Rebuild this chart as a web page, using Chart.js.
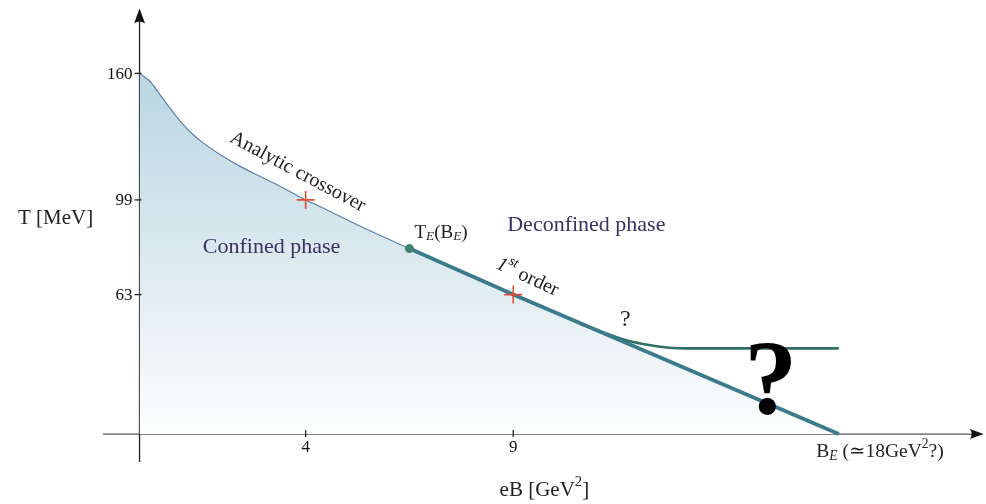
<!DOCTYPE html>
<html>
<head>
<meta charset="utf-8">
<script src="https://cdn.jsdelivr.net/npm/chart.js@4"></script>
<style>
  html, body { margin: 0; padding: 0; background: #fff; }
  #wrap { width: 986px; height: 504px; }
</style>
</head>
<body>
<div id="wrap"><canvas id="phase"></canvas></div>
<script>
// Values (eB in GeV^2, T in MeV)
const X_TICKS = [4, 9];
const Y_TICKS = [63, 99, 160];

// Analytic crossover, from eB = 0 to the endpoint
const CROSS_EB = [0, 0.25, 0.49, 0.73, 0.97, 1.21, 1.53, 1.93, 2.41, 2.97, 3.45, 4.0, 4.34, 5.42, 6.5];
const CROSS_T  = [160, 156.2, 149.8, 143.3, 137.2, 132.0, 126.5, 121.0, 115.3, 109.7, 104.9, 99, 96.5, 88.2, 80.5];

// First order line, from the endpoint down to B_E
const FIRST_EB = [6.5, 9, 16.84];
const FIRST_T  = [80.5, 63, 0];

// Speculative branch that levels off
const BRANCH_EB = [10.59, 11.31, 11.79, 12.27, 12.75, 13.3, 16.84];
const BRANCH_T  = [49.9, 45.0, 42.0, 40.2, 39.0, 38.7, 38.7];

const MARK_EB = [4, 9];
const MARK_T  = [99, 63];

const ENDPOINT = { x: 6.5, y: 80.5 };

// axis extents (the arrows run a little past the plotted range)
const X_RANGE = [-0.88, 20.13];
const X_ARROW_END = 20.33;
const Y_RANGE = [-12.5, 191];
const Y_ARROW_END = 192;

// The T axis of the sketch is not drawn to scale: ticks sit at uneven spacing
const Y_BREAKS = [-12.5, 0, 63, 99, 160, 191];
const Y_BREAK_POS = [0, 0.0618, 0.3709, 0.5806, 0.8609, 1];

function toDecimal(v) {
  const b = Y_BREAKS, p = Y_BREAK_POS;
  let i = 0;
  if (v >= b[b.length - 1]) i = b.length - 2;
  else while (i < b.length - 2 && v > b[i + 1]) i++;
  return p[i] + (v - b[i]) / (b[i + 1] - b[i]) * (p[i + 1] - p[i]);
}
function fromDecimal(d) {
  const b = Y_BREAKS, p = Y_BREAK_POS;
  let i = 0;
  while (i < p.length - 2 && d > p[i + 1]) i++;
  return b[i] + (d - p[i]) / (p[i + 1] - p[i]) * (b[i + 1] - b[i]);
}

class SketchScale extends Chart.LinearScale {
  static id = 'sketch';
  static defaults = Chart.LinearScale.defaults;
  getPixelForValue(value) { return this.getPixelForDecimal(toDecimal(value)); }
  getValueForPixel(pixel) { return fromDecimal(this.getDecimalForPixel(pixel)); }
}
Chart.register(SketchScale);

const zip = (xs, ys) => xs.map((x, i) => ({ x, y: ys[i] }));
const SERIF = '"Liberation Serif", "DejaVu Serif", serif';

// draw a run of text pieces: {t, it, sub, sup}
function richText(c, runs, x, y, size, align) {
  const fontFor = r => (r.it ? 'italic ' : '') + ((r.sub || r.sup) ? size * 0.7 : size) + 'px ' + SERIF;
  const widths = runs.map(r => { c.font = fontFor(r); return c.measureText(r.t).width; });
  const total = widths.reduce((a, b) => a + b, 0);
  let cx = align === 'left' ? x : x - total / 2;
  c.textAlign = 'left';
  runs.forEach((r, i) => {
    c.font = fontFor(r);
    const dy = r.sub ? size * 0.22 : r.sup ? -size * 0.38 : 0;
    c.fillText(r.t, cx, y + dy);
    cx += widths[i];
  });
}

const sketchPlugin = {
  id: 'sketch',
  beforeDatasetsDraw(chart) {
    const c = chart.ctx;
    const xs = chart.scales.x, ys = chart.scales.y;
    const px = v => xs.getPixelForValue(v), py = v => ys.getPixelForValue(v);
    const ax = px(0), ay = py(0);
    c.save();
    c.lineWidth = 1.3;
    c.strokeStyle = '#555';
    c.beginPath(); c.moveTo(px(X_RANGE[0]), ay); c.lineTo(px(X_ARROW_END) - 6, ay); c.stroke();
    c.strokeStyle = '#222';
    c.beginPath(); c.moveTo(ax, py(Y_RANGE[0])); c.lineTo(ax, py(Y_ARROW_END) + 6); c.stroke();
    c.restore();
  },
  afterDatasetsDraw(chart) {
    const c = chart.ctx;
    const xs = chart.scales.x, ys = chart.scales.y;
    const px = v => xs.getPixelForValue(v), py = v => ys.getPixelForValue(v);
    const ax = px(0), ay = py(0);
    c.save();
    c.textBaseline = 'middle';

    // tick marks crossing the axes, with their labels
    c.strokeStyle = '#222';
    c.fillStyle = '#111';
    c.lineWidth = 1.3;
    c.font = '17px ' + SERIF;
    c.textAlign = 'center';
    X_TICKS.forEach(v => {
      c.beginPath(); c.moveTo(px(v), ay - 4); c.lineTo(px(v), ay + 3); c.stroke();
      c.fillText(String(v), px(v), ay + 13);
    });
    c.textAlign = 'right';
    Y_TICKS.forEach(v => {
      c.beginPath(); c.moveTo(ax - 5, py(v)); c.lineTo(ax + 2, py(v)); c.stroke();
      c.fillText(String(v), ax - 7, py(v) + 1);
    });

    // arrowheads
    c.fillStyle = '#111';
    const top = py(Y_ARROW_END), right = px(X_ARROW_END);
    c.beginPath();
    c.moveTo(ax, top); c.lineTo(ax - 5.5, top + 15); c.quadraticCurveTo(ax, top + 11, ax + 5.5, top + 15);
    c.closePath(); c.fill();
    c.beginPath();
    c.moveTo(right, ay); c.lineTo(right - 14, ay - 5); c.quadraticCurveTo(right - 10, ay, right - 14, ay + 5);
    c.closePath(); c.fill();

    // phase labels
    c.fillStyle = '#3a3162';
    c.font = '22px ' + SERIF;
    c.textAlign = 'center';
    c.fillText('Confined phase', px(3.18), py(81.2));
    c.fillText('Deconfined phase', px(10.76), py(89.5));

    c.fillStyle = '#222';
    c.font = '20px ' + SERIF;
    c.save();
    c.translate(px(3.81), py(112.5));
    c.rotate(28 * Math.PI / 180);
    c.fillText('Analytic crossover', 0, 0);
    c.restore();

    richText(c, [{ t: 'T' }, { t: 'E', it: true, sub: true }, { t: '(B' }, { t: 'E', it: true, sub: true }, { t: ')' }],
      px(6.62), py(86.5), 19, 'left');

    c.save();
    c.translate(px(9.34), py(69.6));
    c.rotate(25 * Math.PI / 180);
    richText(c, [{ t: '1', it: true }, { t: 'st', it: true, sup: true }, { t: ' order' }], 0, 0, 20, 'center');
    c.restore();

    c.font = '24px ' + SERIF;
    c.textAlign = 'center';
    c.fillText('?', px(11.7), py(51.8));
    c.fillStyle = '#000';
    c.font = 'bold 106px ' + SERIF;
    c.fillText('?', px(15.2), py(21.5));

    c.fillStyle = '#222';
    richText(c, [{ t: 'B' }, { t: 'E', it: true, sub: true }, { t: ' (\u224318GeV' }, { t: '2', sup: true }, { t: '?)' }],
      px(16.3), py(-8), 19.5, 'left');

    // axis titles
    richText(c, [{ t: 'eB [GeV' }, { t: '2', sup: true }, { t: ']' }], px(9.75), ay + 56, 21, 'center');
    c.font = '21px ' + SERIF;
    c.textAlign = 'center';
    c.fillText('T [MeV]', ax - 84, py(91.8));
    c.restore();
  }
};

const tickSetter = values => scale => { scale.ticks = values.map(v => ({ value: v })); };

new Chart(document.getElementById('phase'), {
  type: 'line',
  data: {
    datasets: [
      {
        // full transition boundary with the shaded confined region under it
        data: zip(CROSS_EB.concat(FIRST_EB.slice(1)), CROSS_T.concat(FIRST_T.slice(1))),
        borderColor: '#5d80a8',
        borderWidth: 1.2,
        cubicInterpolationMode: 'monotone',
        pointRadius: 0,
        fill: 'origin',
        backgroundColor: ctx => {
          const { chart } = ctx;
          if (!chart.chartArea) return 'rgba(190,215,226,0.6)';
          const ys = chart.scales.y;
          const g = chart.ctx.createLinearGradient(0, ys.getPixelForValue(160), 0, ys.getPixelForValue(0));
          g.addColorStop(0, '#bad6e2');
          g.addColorStop(0.5, '#dbe9ef');
          g.addColorStop(1, '#fdfefe');
          return g;
        },
        order: 3
      },
      {
        data: zip(BRANCH_EB, BRANCH_T),
        borderColor: '#2f7062',
        borderWidth: 2.6,
        cubicInterpolationMode: 'monotone',
        pointRadius: 0,
        fill: false,
        order: 2
      },
      {
        data: zip(FIRST_EB, FIRST_T),
        borderColor: '#3c7b8b',
        borderWidth: 3.8,
        pointRadius: 0,
        fill: false,
        order: 1
      },
      {
        data: [ENDPOINT],
        showLine: false,
        pointRadius: 4.5,
        pointBackgroundColor: '#3e8373',
        pointBorderWidth: 0,
        order: 0
      },
      {
        data: zip(MARK_EB, MARK_T),
        showLine: false,
        pointStyle: 'cross',
        pointRadius: 9,
        pointBorderColor: '#e04d35',
        pointBorderWidth: 1.6,
        order: -1
      }
    ]
  },
  options: {
    responsive: true,
    maintainAspectRatio: false,
    animation: false,
    events: [],
    layout: { padding: { left: 103, right: 1, top: 7, bottom: 42 } },
    plugins: { legend: { display: false }, tooltip: { enabled: false } },
    scales: {
      x: {
        type: 'linear',
        min: X_RANGE[0],
        max: X_RANGE[1],
        position: { y: 0 },
        afterBuildTicks: tickSetter(X_TICKS),
        grid: { display: false, drawTicks: false },
        border: { display: false },
        ticks: { display: false }
      },
      y: {
        type: 'sketch',
        min: Y_RANGE[0],
        max: Y_RANGE[1],
        position: { x: 0 },
        afterBuildTicks: tickSetter(Y_TICKS),
        grid: { display: false, drawTicks: false },
        border: { display: false },
        ticks: { display: false }
      }
    }
  },
  plugins: [sketchPlugin]
});
</script>
</body>
</html>
